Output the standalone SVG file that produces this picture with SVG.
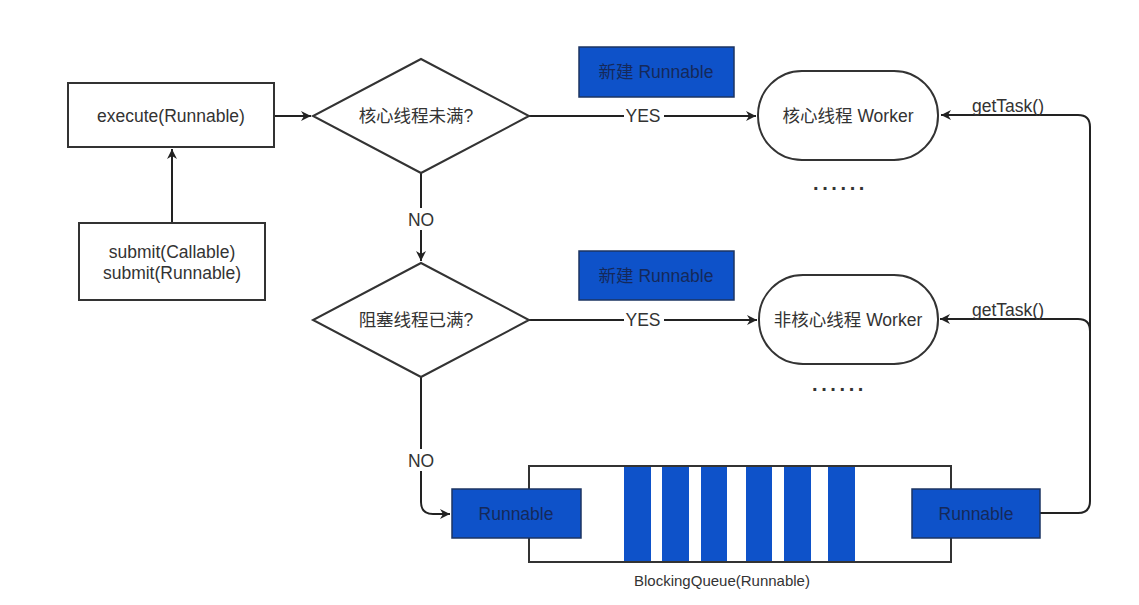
<svg xmlns="http://www.w3.org/2000/svg" width="1139" height="605" viewBox="0 0 1139 605">
<style>
.box{fill:#fff;stroke:#333;stroke-width:2}
.blue{fill:#0e52c9;stroke:#1d3461;stroke-width:1.5}
.bar{fill:#0e52c9;stroke:none}
.t{font-family:"Liberation Sans","Noto Sans CJK SC",Arial,sans-serif;font-size:17.5px;fill:#333;text-anchor:middle}
.tb{font-family:"Liberation Sans","Noto Sans CJK SC",Arial,sans-serif;font-size:17.5px;fill:#15295a;text-anchor:middle}
.line{fill:none;stroke:#222;stroke-width:2}
.lbl{fill:#fff;stroke:none}
.dots{font-family:"Liberation Sans",Arial,sans-serif;font-size:20px;font-weight:bold;fill:#333;letter-spacing:3.6px}
</style>
<defs>
<marker id="arr" markerWidth="12" markerHeight="10" refX="10" refY="5" orient="auto" markerUnits="userSpaceOnUse">
<path d="M0,0 L10,5 L0,10 L3,5 z" fill="#222"/>
</marker>
</defs>
<rect width="1139" height="605" fill="#fff"/>

<g id="connectors">
<path class="line" d="M172,223 V149" marker-end="url(#arr)"/>
<path class="line" d="M274,116 H311" marker-end="url(#arr)"/>
<path class="line" d="M421,173 V261" marker-end="url(#arr)"/>
<path class="line" d="M528,116 H756" marker-end="url(#arr)"/>
<path class="line" d="M528,320 H757" marker-end="url(#arr)"/>
<path class="line" d="M421,376 V502 Q421,514 433,514 H450" marker-end="url(#arr)"/>
<path class="line" d="M1040,513 H1078 Q1090,513 1090,501 V127 Q1090,115 1078,115 H941" marker-end="url(#arr)"/>
<path class="line" d="M1090,331 Q1090,319 1078,319 H940" marker-end="url(#arr)"/>
<rect class="lbl" x="405" y="208" width="32" height="22"/>
<text class="t" x="421" y="226">NO</text>
<rect class="lbl" x="624" y="105" width="40" height="22"/>
<text class="t" x="643" y="122">YES</text>
<rect class="lbl" x="624" y="309" width="40" height="22"/>
<text class="t" x="643" y="326">YES</text>
<rect class="lbl" x="405" y="449" width="32" height="22"/>
<text class="t" x="421" y="467">NO</text>
<text class="t" x="1008" y="112">getTask()</text>
<text class="t" x="1008" y="316">getTask()</text>
</g>

<g id="execute">
<rect class="box" x="68" y="83" width="206" height="64"/>
<text class="t" x="171" y="122">execute(Runnable)</text>
</g>

<g id="submit">
<rect class="box" x="79" y="223" width="186" height="77"/>
<text class="t" x="172" y="258">submit(Callable)</text>
<text class="t" x="172" y="279">submit(Runnable)</text>
</g>

<g id="decision-core">
<polygon class="box" points="421,59 529,116 421,173 313,116"/>
<text class="t" x="416" y="122">核心线程未满?</text>
</g>

<g id="decision-queue">
<polygon class="box" points="421,263 529,320 421,377 313,320"/>
<text class="t" x="416" y="326">阻塞线程已满?</text>
</g>

<g id="new-runnable-1">
<rect class="blue" x="579" y="47" width="155" height="50"/>
<text class="tb" x="656" y="78">新建 Runnable</text>
</g>

<g id="new-runnable-2">
<rect class="blue" x="579" y="251" width="155" height="49"/>
<text class="tb" x="656" y="282">新建 Runnable</text>
</g>

<g id="core-worker">
<rect class="box" x="758" y="71" width="180" height="89" rx="44" ry="44"/>
<text class="t" x="848" y="122">核心线程 Worker</text>
<text class="dots" x="813" y="190">......</text>
</g>

<g id="noncore-worker">
<rect class="box" x="759" y="275" width="179" height="89" rx="44" ry="44"/>
<text class="t" x="848" y="326">非核心线程 Worker</text>
<text class="dots" x="812" y="391">......</text>
</g>

<g id="blocking-queue">
<rect class="box" x="529" y="466" width="422" height="96"/>
<rect class="bar" x="624" y="467" width="27" height="94"/>
<rect class="bar" x="662" y="467" width="27" height="94"/>
<rect class="bar" x="701" y="467" width="26" height="94"/>
<rect class="bar" x="746" y="467" width="26" height="94"/>
<rect class="bar" x="784" y="467" width="27" height="94"/>
<rect class="bar" x="828" y="467" width="27" height="94"/>
<text class="t" x="722" y="586" style="font-size:15px">BlockingQueue(Runnable)</text>
</g>

<g id="runnable-in">
<rect class="blue" x="452" y="489" width="129" height="49"/>
<text class="tb" x="516" y="520">Runnable</text>
</g>

<g id="runnable-out">
<rect class="blue" x="912" y="489" width="128" height="49"/>
<text class="tb" x="976" y="520">Runnable</text>
</g>
</svg>
